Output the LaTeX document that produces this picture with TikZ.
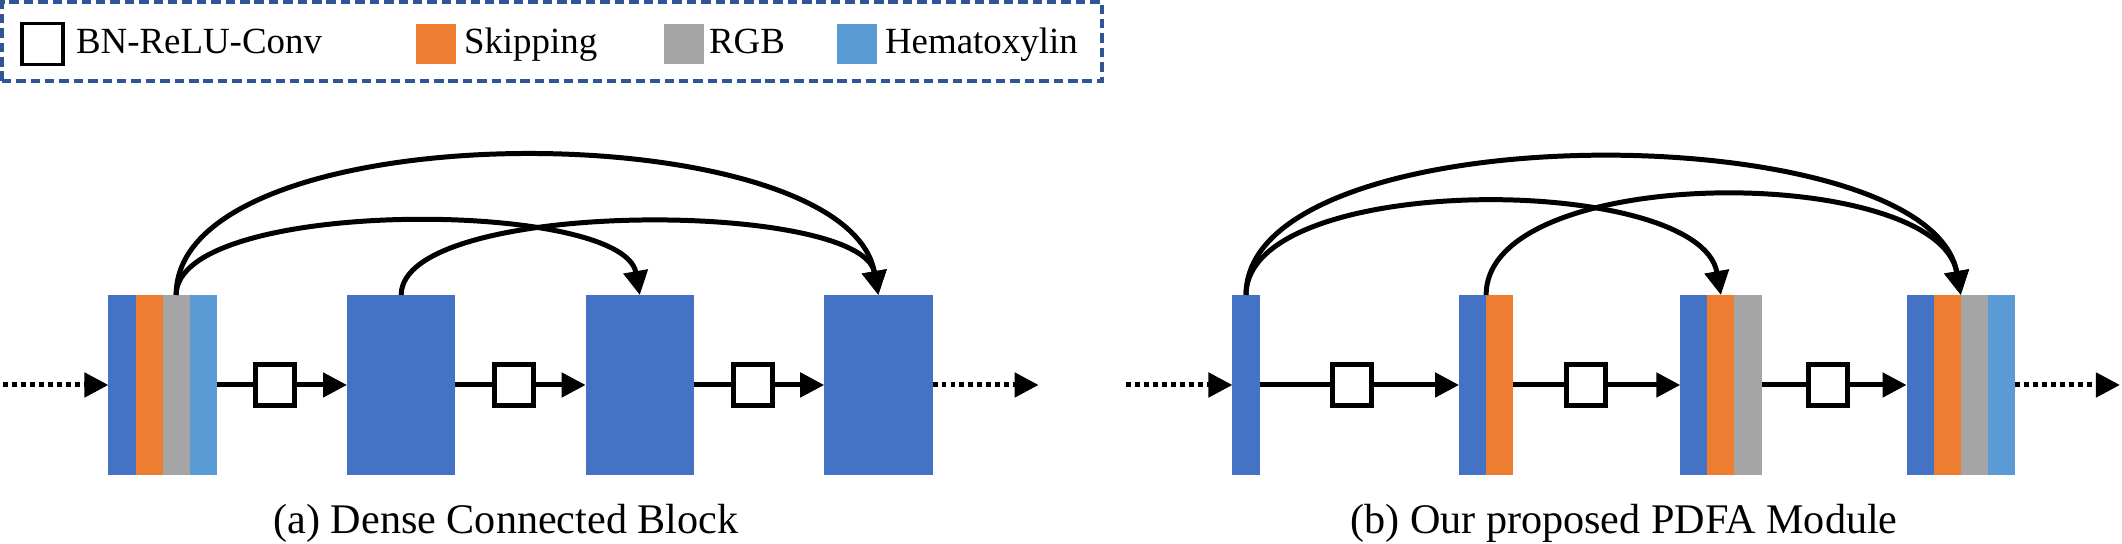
\documentclass[tikz,border=0pt]{standalone}
\usepackage{fontspec}
\setmainfont{Liberation Serif}
\usetikzlibrary{positioning, arrows.meta}

\definecolor{featblue}{HTML}{4472C4}
\definecolor{skiporange}{HTML}{ED7D31}
\definecolor{rgbgray}{HTML}{A5A5A5}
\definecolor{hemblue}{HTML}{5B9BD5}
\definecolor{frameblue}{HTML}{2F5597}

\begin{document}
\begin{tikzpicture}[line width=1.42pt, >={Triangle[length=0.24cm, width=0.24cm]},
    strip/.style={minimum width=0.271cm, minimum height=1.8cm, inner sep=0pt, outer sep=0pt},
    block/.style={strip, minimum width=1.084cm, fill=featblue},
    conv/.style={draw, line width=1.42pt, fill=white, minimum width=0.39cm, minimum height=0.41cm, inner sep=0pt, outer sep=0pt},
    key/.style={minimum size=0.40cm, inner sep=0pt, outer sep=0pt},
    lbl/.style={font=\fontsize{10.5}{12}\selectfont, inner sep=0pt, outer sep=0pt, text height=0.26cm, text depth=0.075cm},
    captext/.style={font=\fontsize{12}{14}\selectfont, inner sep=0pt, anchor=base},
    dots/.style={dash pattern=on 1.4pt off 1.15pt}]
    \useasboundingbox (0,0) rectangle (21.22,5.44);

    % legend
    \draw[frameblue, line width=1.1pt, dash pattern=on 2.7pt off 1.4pt] (0.02,4.63) rectangle (11.02,5.42);
    \node[key, draw, line width=1.1pt, minimum size=0.41cm] (k1) at (0.425,5.00) {};
    \node[lbl, right=0.13 of k1] (t1) {BN-ReLU-Conv};
    \node[key, fill=skiporange] (k2) at (4.355,5.00) {};
    \node[lbl, right=0.085 of k2] (t2) {Skipping};
    \node[key, fill=rgbgray] (k3) at (6.835,5.00) {};
    \node[lbl, right=0.055 of k3] (t3) {RGB};
    \node[key, fill=hemblue] (k4) at (8.565,5.00) {};
    \node[lbl, right=0.085 of k4] (t4) {Hematoxylin};

    % (a) dense connected block
    \coordinate (ain) at (0.03,1.59);
    \node[strip, fill=featblue] (a1a) at (1.2195,1.59) {};
    \node[strip, fill=skiporange, right=0pt of a1a] (a1b) {};
    \node[strip, fill=rgbgray, right=0pt of a1b] (a1c) {};
    \node[strip, fill=hemblue, right=0pt of a1c] (a1d) {};
    \node[conv, right=0.39 of a1d] (c1) {};
    \node[block, right=1.302 of a1d] (a2) {};
    \node[conv, right=0.39 of a2] (c2) {};
    \node[block, right=1.302 of a2] (a3) {};
    \node[conv, right=0.39 of a3] (c3) {};
    \node[block, right=1.302 of a3] (a4) {};
    \coordinate[right=1.06 of a4] (aout);

    \draw[dots, ->] (ain) -- (a1a);
    \draw (a1d) -- (c1);
    \draw[->] (c1) -- (a2);
    \draw (a2) -- (c2);
    \draw[->] (c2) -- (a3);
    \draw (a3) -- (c3);
    \draw[->] (c3) -- (a4);
    \draw[dots, ->] (a4) -- (aout);

    \path[->]
    (a1c.north) edge[out=90, in=100, looseness=0.54] (a3.north)
    (a1c.north) edge[out=90, in=100, looseness=0.68] (a4.north)
    (a2.north) edge[out=90, in=100, looseness=0.52] (a4.north);

    % (b) PDFA module
    \coordinate (bin) at (11.26,1.59);
    \node[strip, fill=featblue] (b1) at (12.46,1.59) {};
    \node[conv, right=0.725 of b1] (d1) {};
    \node[strip, fill=featblue, right=1.995 of b1] (b2a) {};
    \node[strip, fill=skiporange, right=0pt of b2a] (b2b) {};
    \node[conv, right=0.53 of b2b] (d2) {};
    \node[strip, fill=featblue, right=1.67 of b2b] (b3a) {};
    \node[strip, fill=skiporange, right=0pt of b3a] (b3b) {};
    \node[strip, fill=rgbgray, right=0pt of b3b] (b3c) {};
    \node[conv, right=0.47 of b3c] (d3) {};
    \node[strip, fill=featblue, right=1.45 of b3c] (b4a) {};
    \node[strip, fill=skiporange, right=0pt of b4a] (b4b) {};
    \node[strip, fill=rgbgray, right=0pt of b4b] (b4c) {};
    \node[strip, fill=hemblue, right=0pt of b4c] (b4d) {};
    \coordinate[right=1.05 of b4d] (bout);

    \draw[dots, ->] (bin) -- (b1);
    \draw (b1) -- (d1);
    \draw[->] (d1) -- (b2a);
    \draw (b2b) -- (d2);
    \draw[->] (d2) -- (b3a);
    \draw (b3c) -- (d3);
    \draw[->] (d3) -- (b4a);
    \draw[dots, ->] (b4d) -- (bout);

    \path[->]
    (b1.north) edge[out=90, in=100, looseness=0.67] (b3b.north)
    (b1.north) edge[out=90, in=100, looseness=0.66] (b4b.north east)
    (b2a.north east) edge[out=90, in=100, looseness=0.72] (b4b.north east);

    % captions
    \node[captext] (capa) at (5.06,0.10) {(a) Dense Connected Block};
    \node[captext] (capb) at (16.24,0.10) {(b) Our proposed PDFA Module};
\end{tikzpicture}
\end{document}
